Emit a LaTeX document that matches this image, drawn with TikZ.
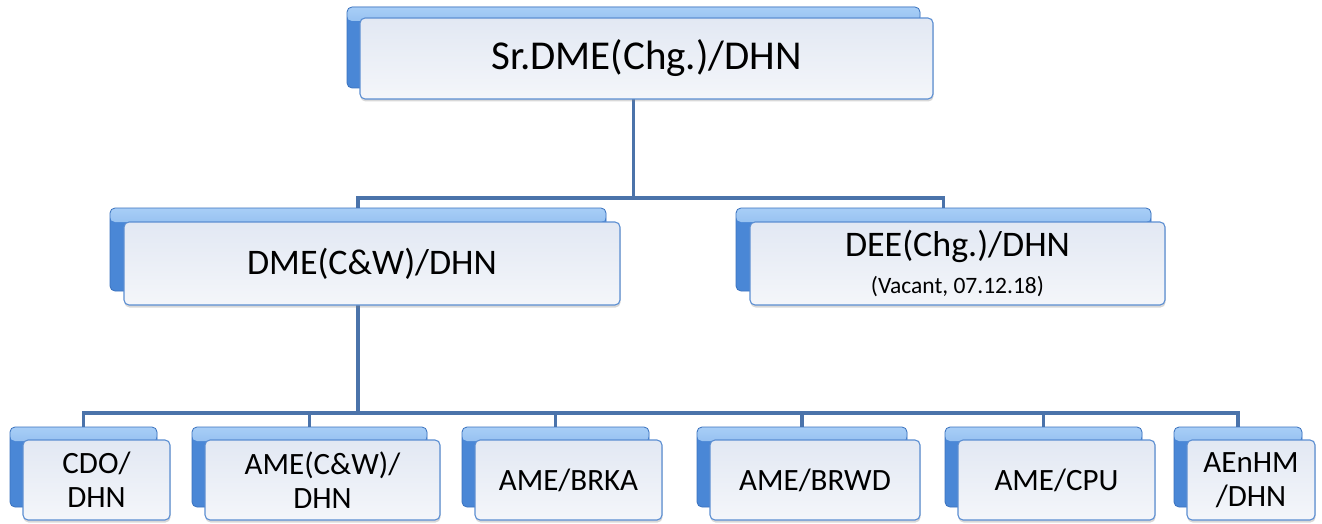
\documentclass[tikz,border=0pt]{standalone}
\usepackage{fontspec}
\setmainfont{Carlito}
\usetikzlibrary{shadows,calc}
\definecolor{connc}{HTML}{4B73AA}
\definecolor{frontdraw}{HTML}{5B8ED2}
\definecolor{fronttop}{HTML}{E2E8F3}
\definecolor{frontbot}{HTML}{F4F6FA}
\definecolor{backfill}{HTML}{4A87D6}
\definecolor{backhi}{HTML}{A9CFF7}
\definecolor{backdraw}{HTML}{3A72BE}
\pgfdeclarelayer{bg}
\pgfsetlayers{bg,main}
\begin{document}
\begin{tikzpicture}[x=1pt,y=-1pt,
  front/.style={draw=frontdraw, line width=1.1pt, rounded corners=5pt,
    top color=fronttop, bottom color=frontbot,
    drop shadow={shadow xshift=0.5pt,shadow yshift=-2.5pt,opacity=0.3},
    inner sep=0pt, align=center, text=black},
  back/.style={draw=backdraw, line width=0.8pt, rounded corners=5pt, fill=backfill,
    inner sep=0pt,
    path picture={\shade[top color=backhi, bottom color=backfill]
      ([yshift=1pt]path picture bounding box.north west) rectangle
      ([yshift=-14pt]path picture bounding box.north east);}},
  conn/.style={draw=connc, line width=3.5pt, line join=miter},
  lone/.style={font=\fontsize{41}{48}\selectfont},
  ltwo/.style={font=\fontsize{36}{40}\selectfont},
  lthree/.style={font=\fontsize{31}{34}\selectfont}]
\useasboundingbox (0,0) rectangle (1322,524);

% level 1
\node[back, minimum width=573pt, minimum height=81pt] (topB) at (633.5,47.5) {};
\node[front, lone, minimum width=573pt, minimum height=81pt] (top) at (646.5,58.5) {Sr.DME(Chg.)/DHN};

% level 2
\node[back, minimum width=496pt, minimum height=83pt] (dmeB) at (358,249.5) {};
\node[front, ltwo, minimum width=496pt, minimum height=83pt] (dme) at (372,263.5) {DME(C\&W)/DHN};
\node[back, minimum width=415pt, minimum height=83pt] (deeB) at (943.5,249.5) {};
\node[front, ltwo, minimum width=415pt, minimum height=83pt] (dee) at (957.5,263.5)
  {DEE(Chg.)/DHN\\[-3pt]{\fontsize{23.5}{26}\selectfont (Vacant, 07.12.18)}};

% level 3
\node[back, minimum width=147pt, minimum height=80pt] (cdoB) at (83.5,467) {};
\node[front, lthree, minimum width=147pt, minimum height=80pt] (cdo) at (96.5,480) {CDO/\\DHN};
\node[back, minimum width=235pt, minimum height=80pt] (amecwB) at (309.5,467) {};
\node[front, lthree, minimum width=235pt, minimum height=80pt] (amecw) at (322.5,480) {AME(C\&W)/\\DHN};
\node[back, minimum width=187pt, minimum height=80pt] (brkaB) at (555.5,467) {};
\node[front, lthree, minimum width=187pt, minimum height=80pt] (brka) at (568.5,480) {AME/BRKA};
\node[back, minimum width=210pt, minimum height=80pt] (brwdB) at (802,467) {};
\node[front, lthree, minimum width=210pt, minimum height=80pt] (brwd) at (815,480) {AME/BRWD};
\node[back, minimum width=197pt, minimum height=80pt] (cpuB) at (1043.5,467) {};
\node[front, lthree, minimum width=197pt, minimum height=80pt] (cpu) at (1056.5,480) {AME/CPU};
\node[back, minimum width=128pt, minimum height=80pt] (aenB) at (1238,467) {};
\node[front, lthree, minimum width=128pt, minimum height=80pt] (aen) at (1251,480) {AEnHM\\/DHN};

\coordinate (bus1) at (0,198);
\coordinate (bus2) at (0,413);

\begin{pgfonlayer}{bg}
\fill[white] (0,0) rectangle (1322,524);
\draw[conn] (topB.south) -- (topB.south |- bus1);
\draw[conn] (dmeB.north) -- (dmeB.north |- bus1) -- (deeB.north |- bus1) -- (deeB.north);
\draw[conn] (dmeB.south) -- (dmeB.south |- bus2);
\draw[conn] (cdoB.north) -- (cdoB.north |- bus2) -- (aenB.north |- bus2) -- (aenB.north);
\draw[conn] (amecwB.north |- bus2) -- (amecwB.north);
\draw[conn] (brkaB.north |- bus2) -- (brkaB.north);
\draw[conn] (brwdB.north |- bus2) -- (brwdB.north);
\draw[conn] (cpuB.north |- bus2) -- (cpuB.north);
\end{pgfonlayer}
\end{tikzpicture}
\end{document}
